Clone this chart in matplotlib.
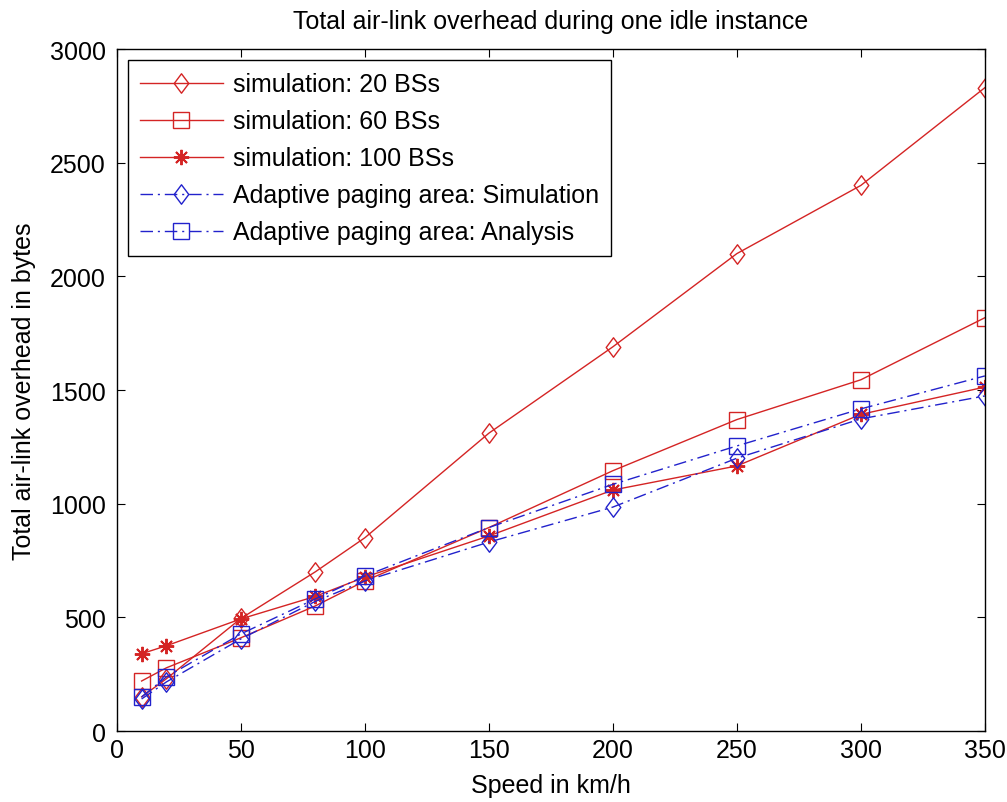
import numpy as np
import matplotlib.pyplot as plt
from matplotlib.path import Path

plt.rcParams['font.family'] = ['Liberation Sans', 'DejaVu Sans']

# speed in km/h
speed = [10, 20, 50, 80, 100, 150, 200, 250, 300, 350]

# total air-link overhead in bytes
sim_20 = [150, 230, 495, 700, 850, 1310, 1690, 2100, 2400, 2830]
sim_60 = [220, 278, 410, 550, 660, 895, 1145, 1370, 1545, 1818]
sim_100 = [340, 375, 493, 592, 677, 858, 1060, 1166, 1393, 1513]
apa_sim = [141, 216, 405, 570, 660, 831, 985, 1200, 1373, 1474]
apa_ana = [150, 238, 427, 581, 682, 895, 1085, 1254, 1417, 1562]

red = '#d42424'
blue = '#2222cc'

# matlab-ish diamond (a bit wider than mpl 'd')
diamond = Path([(0, -1), (0.75, 0), (0, 1), (-0.75, 0), (0, -1)],
               [Path.MOVETO, Path.LINETO, Path.LINETO, Path.LINETO, Path.CLOSEPOLY])
asterisk = (8, 2, 0)
dd = (9, 3.5, 1.5, 3.5)

fig = plt.figure(figsize=(10.07, 8.03), dpi=100)
ax = fig.add_axes([0.116, 0.0884, 0.862, 0.8493])

ax.plot(speed, sim_20, color=red, lw=1, marker=diamond, ms=14, mfc='none', mew=1,
        label='simulation: 20 BSs')
ax.plot(speed, sim_60, color=red, lw=1, marker='s', ms=12, mfc='none', mew=1,
        label='simulation: 60 BSs')
ax.plot(speed, sim_100, color=red, lw=1, marker=asterisk, ms=11, mew=1.4,
        label='simulation: 100 BSs')
ax.plot(speed, apa_sim, color=blue, lw=1, ls='-.', marker=diamond, ms=14, mfc='none', mew=1,
        dashes=dd, label='Adaptive paging area: Simulation')
ax.plot(speed, apa_ana, color=blue, lw=1, ls='-.', marker='s', ms=12, mfc='none', mew=1,
        dashes=dd, label='Adaptive paging area: Analysis')

ax.set_xlim(0, 350)
ax.set_ylim(0, 3000)
ax.set_xticks(np.arange(0, 351, 50))
ax.set_yticks(np.arange(0, 3001, 500))
ax.tick_params(direction='in', length=6, labelsize=18, top=True, right=True)
ax.tick_params(axis='y', pad=8)
ax.tick_params(axis='x', pad=5)
for s in ax.spines.values():
    s.set_linewidth(1)

ax.set_title('Total air-link overhead during one idle instance', fontsize=18, pad=15)
ax.set_xlabel('Speed in km/h', fontsize=18, labelpad=8)
ax.set_ylabel('Total air-link overhead in bytes', fontsize=18, labelpad=10)

leg = ax.legend(loc='upper left', fontsize=18, frameon=True, fancybox=False,
                edgecolor='black', framealpha=1, borderaxespad=0.45,
                handlelength=3.3, labelspacing=0.52, borderpad=0.48, handletextpad=0.4)
leg.get_frame().set_linewidth(1)

fig.savefig('out.png', dpi=100)
